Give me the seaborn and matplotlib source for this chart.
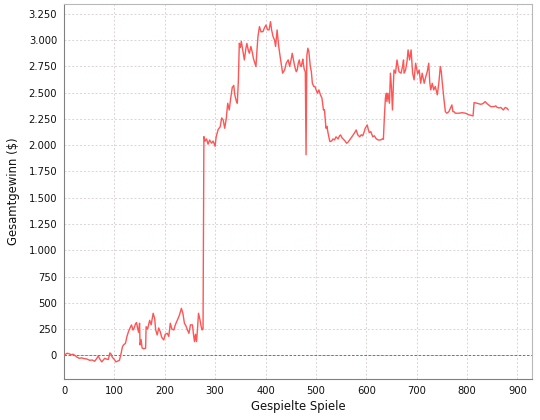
import numpy as np
import seaborn as sns
import matplotlib.pyplot as plt
import matplotlib.ticker as mticker
import pandas as pd

# Gespielte Spiele vs. Gesamtgewinn
spiele = [0, 3, 6, 10, 14, 18, 21, 25, 30, 35, 40, 45, 51, 56, 61, 65, 68, 71, 75, 78,
          81, 85, 88, 91, 93, 96, 100, 103, 107, 110, 113, 116, 118, 122, 125, 128, 131, 134, 137, 139,
          142, 144, 146, 148, 150, 151, 153, 155, 158, 162, 163, 166, 170, 173, 177, 180, 182, 185, 188, 191,
          194, 198, 201, 205, 208, 211, 214, 218, 221, 225, 229, 233, 236, 239, 242, 245, 248, 251, 255, 257,
          259, 261, 263, 265, 267, 270, 272, 274, 276, 277.7, 280, 283, 286, 289, 293, 296, 300, 302, 306, 310,
          313, 316, 319, 322, 325, 328, 331, 334, 337, 339, 342, 344, 346, 348, 350, 352, 355, 358, 361, 363,
          366, 368, 371, 374, 376, 379, 381, 383, 385, 387, 388, 391, 395, 398, 401, 404, 407, 410, 412, 415,
          418, 420, 423, 426, 429, 432, 434, 438, 441, 445, 448, 451, 453, 456, 458, 461, 463, 465, 467, 469,
          471, 474, 475, 477, 479, 480.5, 482, 484, 486, 489, 491, 493, 496, 498, 501, 503, 506, 509, 512, 515,
          517, 520, 522, 524, 527, 528, 531, 534, 537, 540, 544, 547, 549, 552, 554, 558, 561, 564, 567, 570,
          574, 577, 580, 583, 587, 590, 593, 596, 598, 602, 604, 606, 609, 613, 616, 620, 624, 628, 632, 634,
          636, 638, 640, 641, 643, 646, 648, 650, 652, 655, 658, 661, 665, 669, 672, 674, 675, 678, 681, 683,
          686, 689, 692, 695, 698, 702, 705, 708, 711, 715, 718, 721, 724, 726, 728, 731, 734, 737, 741, 744,
          747, 749, 751, 754, 757, 760, 764, 767, 770, 772, 774, 777, 784, 790, 797, 804, 808, 812, 814, 820,
          827, 831, 836, 840, 844, 847, 854, 857, 860, 864, 867, 870, 872, 876, 880, 882]
gewinn = [0, 10, 19, 15, 5, 10, 0, -15, -29, -25, -32, -35, -48, -45, -57, -30, -7, -35, -63, -45,
          -29, -38, -40, 22, 15, -20, -40, -63, -55, -48, 10, 80, 98, 114, 180, 225, 260, 289, 240, 257,
          300, 311, 260, 219, 305, 98, 150, 70, 62, 67, 272, 250, 333, 290, 400, 350, 241, 193, 260, 225,
          170, 146, 200, 209, 180, 305, 250, 241, 290, 336, 380, 447, 400, 305, 280, 241, 209, 290, 289, 200,
          130, 200, 130, 250, 400, 336, 280, 241, 250, 2082, 2040, 2060, 2010, 2050, 2020, 2040, 1990, 2080, 2150, 2175,
          2260, 2240, 2162, 2250, 2400, 2336, 2450, 2550, 2570, 2480, 2420, 2400, 2600, 2971, 2930, 2990, 2900, 2812, 2920, 2970,
          2900, 2876, 2940, 2880, 2826, 2780, 2749, 2900, 3034, 3100, 3130, 3080, 3082, 3120, 3145, 3100, 3098, 3177, 3100, 3035,
          3000, 2940, 3098, 2950, 2845, 2750, 2686, 2718, 2780, 2813, 2750, 2820, 2876, 2800, 2750, 2700, 2718, 2780, 2813, 2760,
          2750, 2820, 2781, 2720, 2700, 1910, 2850, 2924, 2892, 2750, 2700, 2590, 2558, 2560, 2520, 2495, 2527, 2480, 2450, 2336,
          2340, 2162, 2180, 2120, 2050, 2034, 2040, 2060, 2050, 2080, 2060, 2090, 2098, 2070, 2060, 2040, 2019, 2030, 2050, 2070,
          2098, 2120, 2146, 2100, 2080, 2100, 2090, 2130, 2162, 2193, 2150, 2120, 2130, 2080, 2090, 2060, 2050, 2050, 2060, 2057,
          2273, 2450, 2495, 2415, 2495, 2400, 2686, 2550, 2336, 2717, 2686, 2812, 2700, 2686, 2750, 2812, 2686, 2717, 2800, 2908,
          2812, 2908, 2686, 2623, 2781, 2680, 2717, 2590, 2686, 2590, 2650, 2700, 2781, 2600, 2527, 2590, 2527, 2560, 2480, 2590,
          2750, 2700, 2590, 2448, 2320, 2305, 2320, 2351, 2384, 2320, 2320, 2305, 2305, 2310, 2305, 2289, 2285, 2279, 2406, 2400,
          2390, 2395, 2415, 2395, 2380, 2368, 2368, 2375, 2360, 2355, 2360, 2345, 2336, 2360, 2350, 2336]

y_ticks = [0, 250, 500, 750, 1000, 1250, 1500, 1750, 2000, 2250, 2500, 2750, 3000, 3250]
x_ticks = [0, 100, 200, 300, 400, 500, 600, 700, 800, 900]

df = pd.DataFrame({"spiele": spiele, "gewinn": gewinn})

sns.set_style("white")
plt.rcParams['font.family'] = ['DejaVu Sans']

fig = plt.figure(figsize=(5.4, 4.2), dpi=100)
ax = fig.add_axes([64 / 540, 41 / 420, 468 / 540, 375 / 420])

ax.axhline(0, color="#4f4fff", linewidth=0.6, linestyle=(0, (3, 2)), zorder=2)
sns.lineplot(data=df, x="spiele", y="gewinn", color="#ff5555", linewidth=1.0,
             estimator=None, sort=False, ax=ax, zorder=3)

ax.set_xlim(0, 929)
ax.set_ylim(-226, 3345)
ax.set_xticks(x_ticks)
ax.set_yticks(y_ticks)
ax.yaxis.set_major_formatter(mticker.FuncFormatter(lambda v, p: f"{v:,.0f}".replace(",", ".")))

ax.grid(color="#dcd4d4", linestyle=(0, (2, 2)), linewidth=0.7)
ax.set_axisbelow(True)
ax.tick_params(axis="both", labelsize=7.2, length=2, width=0.7, color="#808080",
               labelcolor="#111111", pad=3, direction="out")
ax.set_xlabel("Gespielte Spiele", fontsize=8.4, labelpad=3, color="#111111")
ax.set_ylabel("Gesamtgewinn ($)", fontsize=8.4, labelpad=6, color="#111111")

for side in ["left", "bottom"]:
    ax.spines[side].set_color("#808080")
    ax.spines[side].set_linewidth(0.8)
for side in ["top", "right"]:
    ax.spines[side].set_color("#b8b8b8")
    ax.spines[side].set_linewidth(0.8)

fig.savefig("out.png", dpi=100)
